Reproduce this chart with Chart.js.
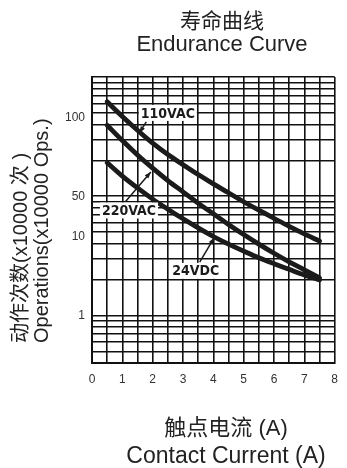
<!DOCTYPE html>
<html lang="zh">
  <head>
    <meta charset="UTF-8" />
    <script src="https://cdn.jsdelivr.net/npm/chart.js"></script>
    <style>
      body {
        margin: 0;
        background: #fff;
      }
    </style>
  </head>
  <body>
    <canvas id="enduranceChart" width="347" height="468"></canvas>

    <script>
      // contact current (A)
      const currents = [0.5, 1, 1.5, 2, 2.5, 3, 3.5, 4, 4.5, 5, 5.5, 6, 6.5, 7, 7.5];
      // operations (one decade = 1..10 on the grid)
      const ops110VAC = [62, 46.7, 35.8, 27.9, 22.4, 18.4, 15.2, 12.7, 10.7, 9.0, 7.64, 6.53, 5.59, 4.83, 4.21];
      const ops220VAC = [39.4, 29.3, 22.2, 17.2, 13.55, 10.9, 8.76, 7.13, 5.81, 4.78, 3.97, 3.33, 2.82, 2.42, 2.07];
      const ops24VDC = [19.1, 14.77, 11.75, 9.47, 7.79, 6.47, 5.43, 4.6, 3.97, 3.47, 3.05, 2.72, 2.44, 2.19, 1.99];

      // tick labels as printed on the sheet
      const xTickValues = [0, 1, 2, 3, 4, 5, 6, 7, 8];
      const yTickValues = [1, 4.6, 10, 46];
      const yTickLabels = ["1", "10", "50", "100"];

      // curve callouts: label centre, arrow tail and arrow tip (axis units)
      const callouts = [
        { text: "110VAC", at: [2.5, 50], from: [1.79, 42], to: [1.56, 34] },
        { text: "220VAC", at: [1.22, 7.6], from: [1.1, 9.0], to: [1.94, 16] },
        { text: "24VDC", at: [3.42, 2.37], from: [3.55, 2.8], to: [4.03, 4.5] },
      ];

      const yMin = 0.4;
      const yMax = 100;

      // log paper lines: 1..9 in every decade
      const paperLines = [];
      [0.1, 1, 10].forEach((d) => {
        for (let m = 1; m <= 9; m++) {
          const v = +(m * d).toFixed(4);
          if (v >= yMin && v <= yMax) paperLines.push(v);
        }
      });
      paperLines.push(yMax);

      const near = (a, b) => Math.abs(a - b) < 1e-6;
      const yTicksAll = paperLines
        .concat(yTickValues.filter((v) => !paperLines.some((p) => near(p, v))))
        .sort((a, b) => a - b);

      const toPoints = (ys) => currents.map((x, i) => ({ x: x, y: ys[i] }));

      const curveStyle = {
        borderColor: "#1b1b1b",
        borderWidth: 4.8,
        borderCapStyle: "round",
        pointRadius: 0,
        cubicInterpolationMode: "monotone",
        fill: false,
      };

      const calloutPlugin = {
        id: "callouts",
        afterDatasetsDraw(chart) {
          const c = chart.ctx;
          const xs = chart.scales.x;
          const ys = chart.scales.y;
          c.save();
          callouts.forEach((n) => {
            const x1 = xs.getPixelForValue(n.from[0]);
            const y1 = ys.getPixelForValue(n.from[1]);
            const x2 = xs.getPixelForValue(n.to[0]);
            const y2 = ys.getPixelForValue(n.to[1]);
            c.strokeStyle = "#1b1b1b";
            c.fillStyle = "#1b1b1b";
            c.lineWidth = 1.5;
            c.beginPath();
            c.moveTo(x1, y1);
            c.lineTo(x2, y2);
            c.stroke();
            const ang = Math.atan2(y2 - y1, x2 - x1);
            c.beginPath();
            c.moveTo(x2, y2);
            c.lineTo(x2 - 7 * Math.cos(ang - 0.35), y2 - 7 * Math.sin(ang - 0.35));
            c.lineTo(x2 - 7 * Math.cos(ang + 0.35), y2 - 7 * Math.sin(ang + 0.35));
            c.closePath();
            c.fill();

            const tx = xs.getPixelForValue(n.at[0]);
            const ty = ys.getPixelForValue(n.at[1]);
            c.font = 'bold 14px "Liberation Sans Narrow", "DejaVu Sans Condensed", sans-serif';
            const w = c.measureText(n.text).width;
            c.fillStyle = "#fff";
            c.fillRect(tx - w / 2 - 2, ty - 8, w + 4, 16);
            c.fillStyle = "#1b1b1b";
            c.textAlign = "center";
            c.textBaseline = "middle";
            c.fillText(n.text, tx, ty + 1);
          });
          c.restore();
        },
      };

      const titlesPlugin = {
        id: "titles",
        afterDraw(chart) {
          const c = chart.ctx;
          const font = '"Liberation Sans", "Noto Sans CJK SC", sans-serif';
          c.save();
          c.fillStyle = "#222";
          c.textAlign = "center";
          c.textBaseline = "middle";
          c.font = "21px " + font;
          c.fillText("寿命曲线", 222, 22);
          c.font = "22px " + font;
          c.fillText("Endurance Curve", 222, 45);
          c.fillText("触点电流 (A)", 226, 429);
          c.font = "23px " + font;
          c.fillText("Contact Current (A)", 226, 457);

          c.translate(0, 343);
          c.rotate(-Math.PI / 2);
          c.textAlign = "left";
          c.font = "20px " + font;
          c.fillText("动作次数(x10000 次 )", 0, 21);
          c.fillText("Operations(x10000 Ops.)", 0, 42);
          c.restore();
        },
      };

      const ctx = document.getElementById("enduranceChart").getContext("2d");
      const enduranceChart = new Chart(ctx, {
        type: "line",
        data: {
          datasets: [
            { label: "110VAC", data: toPoints(ops110VAC), ...curveStyle },
            { label: "220VAC", data: toPoints(ops220VAC), ...curveStyle },
            { label: "24VDC", data: toPoints(ops24VDC), ...curveStyle },
          ],
        },
        options: {
          responsive: false,
          animation: false,
          layout: { padding: { top: 77, right: 5, bottom: 80, left: 0 } },
          plugins: {
            legend: { display: false },
            tooltip: { enabled: false },
          },
          scales: {
            x: {
              type: "linear",
              min: 0,
              max: 8,
              afterFit: (scale) => {
                scale.height = 25;
              },
              grid: { color: "#111", lineWidth: 1.6, drawTicks: false },
              border: { color: "#111", width: 2 },
              ticks: {
                stepSize: 0.5,
                autoSkip: false,
                maxRotation: 0,
                padding: 9,
                color: "#333",
                font: { family: "Liberation Sans", size: 12 },
                callback: (v) => (xTickValues.includes(v) ? String(v) : ""),
              },
            },
            y: {
              type: "logarithmic",
              min: yMin,
              max: yMax,
              afterFit: (scale) => {
                scale.width = 92;
              },
              afterBuildTicks: (scale) => {
                scale.ticks = yTicksAll.map((v) => ({ value: v }));
              },
              grid: {
                lineWidth: 1.6,
                drawTicks: false,
                color: (c) =>
                  c.tick && !paperLines.some((p) => near(p, c.tick.value))
                    ? "rgba(0,0,0,0)"
                    : "#111",
              },
              border: { color: "#111", width: 2 },
              ticks: {
                autoSkip: false,
                padding: 7,
                color: "#333",
                font: { family: "Liberation Sans", size: 12 },
                callback: (v) => {
                  const i = yTickValues.findIndex((t) => near(t, v));
                  return i >= 0 ? yTickLabels[i] : "";
                },
              },
            },
          },
        },
        plugins: [calloutPlugin, titlesPlugin],
      });
    </script>
  </body>
</html>
